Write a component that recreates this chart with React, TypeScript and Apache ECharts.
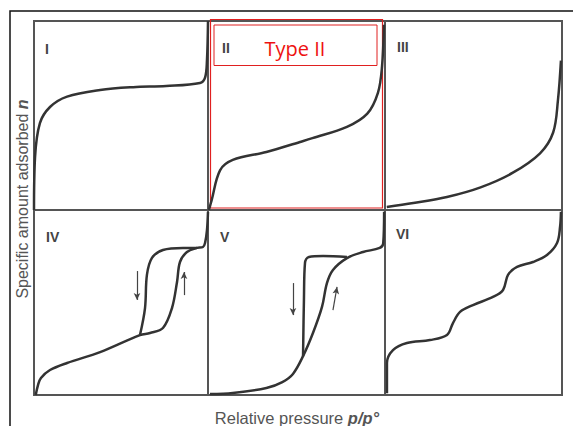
import React, { useEffect, useRef } from "react";
import * as echarts from "echarts";

// Normalised isotherm curves (x = relative pressure 0..1, y = amount adsorbed 0..1)
const typeI: [number, number][] = [
  [0, 0], [0.006, 0.28], [0.034, 0.46], [0.092, 0.545], [0.19, 0.6], [0.38, 0.635],
  [0.57, 0.65], [0.76, 0.656], [0.954, 0.672], [0.983, 0.7], [0.994, 0.79], [1, 1],
];
const typeII: [number, number][] = [
  [0.005, 0], [0.02, 0.05], [0.068, 0.21], [0.14, 0.265], [0.33, 0.307], [0.52, 0.36],
  [0.59, 0.38], [0.785, 0.44], [0.9, 0.51], [0.96, 0.62], [0.983, 0.757], [0.994, 0.98],
];
const typeIII: [number, number][] = [
  [0.01, 0.016], [0.16, 0.037], [0.35, 0.069], [0.54, 0.12], [0.72, 0.196], [0.876, 0.3],
  [0.95, 0.41], [0.977, 0.58], [0.994, 0.79],
];
const typeIVads: [number, number][] = [
  [0.01, 0], [0.023, 0.054], [0.04, 0.092], [0.092, 0.135], [0.19, 0.173], [0.38, 0.232],
  [0.609, 0.324], [0.667, 0.335], [0.741, 0.362], [0.793, 0.47], [0.822, 0.611], [0.839, 0.719],
  [0.879, 0.773], [0.937, 0.795], [0.971, 0.8], [0.983, 0.822], [0.994, 0.89], [1.0, 0.99],
];
const typeIVdes: [number, number][] = [
  [0.609, 0.324], [0.638, 0.47], [0.649, 0.649], [0.678, 0.741], [0.741, 0.784],
  [0.856, 0.795], [0.937, 0.795],
];
const typeVads: [number, number][] = [
  [0.011, 0.005], [0.14, 0.011], [0.33, 0.038], [0.42, 0.07], [0.48, 0.114], [0.537, 0.21],
  [0.593, 0.335], [0.644, 0.476], [0.672, 0.605], [0.706, 0.676], [0.785, 0.74], [0.876, 0.773],
  [0.97, 0.795], [0.99, 0.82], [0.995, 0.99],
];
const typeVdes: [number, number][] = [
  [0.537, 0.21], [0.542, 0.514], [0.548, 0.714], [0.57, 0.746], [0.65, 0.751], [0.785, 0.746],
];
const typeVI: [number, number][] = [
  [0.011, 0.01], [0.011, 0.173], [0.045, 0.243], [0.124, 0.281], [0.254, 0.297], [0.35, 0.324],
  [0.384, 0.389], [0.424, 0.449], [0.497, 0.486], [0.61, 0.53], [0.667, 0.568], [0.695, 0.649],
  [0.746, 0.692], [0.836, 0.719], [0.915, 0.757], [0.972, 0.822], [0.989, 0.908], [0.994, 0.99],
];
// hysteresis arrows: [x1, y1, x2, y2]
const arrowsIV: number[][] = [
  [0.592, 0.67, 0.592, 0.514],
  [0.862, 0.54, 0.862, 0.665],
];
const arrowsV: number[][] = [
  [0.48, 0.605, 0.48, 0.432],
  [0.706, 0.459, 0.729, 0.584],
];
const panelLabels = ["I", "II", "III", "IV", "V", "VI"];
const yTitle = "Specific amount adsorbed ";
const yTitleVar = "n";
const xTitle = "Relative pressure ";
const xTitleVar = "p/p°";
const highlight = "Type II";

const cols = [
  { left: 34, width: 174 },
  { left: 208, width: 177 },
  { left: 385, width: 177 },
];
const rows = [
  { top: 21, height: 189 },
  { top: 210, height: 185 },
];

export default function App() {
  const ref = useRef<HTMLDivElement>(null);
  useEffect(() => {
    if (!ref.current) return;
    const chart = echarts.init(ref.current, null, { renderer: "svg" });
    const grids: any[] = [];
    const xAxes: any[] = [];
    const yAxes: any[] = [];
    for (let r = 0; r < 2; r++) {
      for (let c = 0; c < 3; c++) {
        const i = r * 3 + c;
        grids.push({
          left: cols[c].left,
          top: rows[r].top,
          width: cols[c].width,
          height: rows[r].height,
          show: true,
          borderColor: "#555",
          borderWidth: 2,
          backgroundColor: "transparent",
        });
        xAxes.push({ type: "value", gridIndex: i, min: 0, max: 1, show: false });
        yAxes.push({ type: "value", gridIndex: i, min: 0, max: 1, show: false });
      }
    }
    const curve = (data: [number, number][], i: number, extra: any = {}) => ({
      type: "line",
      xAxisIndex: i,
      yAxisIndex: i,
      data,
      showSymbol: false,
      smooth: 0.35,
      silent: true,
      lineStyle: { color: "#333", width: 2.5 },
      ...extra,
    });
    const arrowMark = (arr: number[][]) => ({
      markLine: {
        silent: true,
        symbol: ["none", "arrow"],
        symbolSize: [5, 7],
        label: { show: false },
        lineStyle: { color: "#444", width: 1.2, type: "solid" },
        data: arr.map((a) => [{ coord: [a[0], a[1]] }, { coord: [a[2], a[3]] }]),
      },
    });
    const labelPos = [
      [45, 42], [222, 41], [397, 40], [46, 230], [220, 230], [396, 227],
    ];
    const option: any = {
      animation: false,
      backgroundColor: "#fff",
      grid: grids,
      xAxis: xAxes,
      yAxis: yAxes,
      series: [
        curve(typeI, 0),
        curve(typeII, 1),
        curve(typeIII, 2),
        curve(typeIVads, 3, arrowMark(arrowsIV)),
        curve(typeIVdes, 3),
        curve(typeVads, 4, arrowMark(arrowsV)),
        curve(typeVdes, 4),
        curve(typeVI, 5),
      ],
      graphic: [
        {
          type: "polyline",
          shape: { points: [[10, 426], [10, 11], [573, 11]] },
          style: { stroke: "#111", lineWidth: 1.5, fill: "none" },
          silent: true,
        },
        ...panelLabels.map((t, i) => ({
          type: "text",
          x: labelPos[i][0],
          y: labelPos[i][1],
          style: {
            text: t,
            fill: "#444",
            font: "bold 14px 'Liberation Sans', Arial, sans-serif",
          },
          silent: true,
        })),
        {
          type: "rect",
          shape: { x: 210.5, y: 19.5, width: 172, height: 188.5 },
          style: { stroke: "#e02020", lineWidth: 1.2, fill: "none" },
          silent: true,
        },
        {
          type: "rect",
          shape: { x: 214, y: 25, width: 163, height: 40.5 },
          style: { stroke: "#e02020", lineWidth: 1, fill: "none" },
          silent: true,
        },
        {
          type: "text",
          x: 295,
          y: 48,
          style: {
            text: highlight,
            fill: "#ee1111",
            font: "20px 'Open Sans', sans-serif",
            align: "center",
            verticalAlign: "middle",
          },
          silent: true,
        },
        {
          type: "text",
          x: 22,
          y: 199,
          rotation: Math.PI / 2,
          style: {
            text: "{a|" + yTitle + "}{b|" + yTitleVar + "}",
            align: "center",
            verticalAlign: "middle",
            rich: {
              a: { fill: "#555", font: "16px 'Liberation Sans', Arial, sans-serif" },
              b: { fill: "#555", font: "italic bold 16px 'Liberation Sans', Arial, sans-serif" },
            },
          },
          silent: true,
        },
        {
          type: "text",
          x: 297,
          y: 418,
          style: {
            text: "{a|" + xTitle + "}{b|" + xTitleVar + "}",
            align: "center",
            verticalAlign: "middle",
            rich: {
              a: { fill: "#555", font: "16.5px 'Liberation Sans', Arial, sans-serif" },
              b: { fill: "#555", font: "italic bold 16.5px 'Liberation Sans', Arial, sans-serif" },
            },
          },
          silent: true,
        },
      ],
    };
    chart.setOption(option);
    return () => chart.dispose();
  }, []);
  return (
    <div
      ref={ref}
      style={{ position: "fixed", left: 0, top: 0, width: 573, height: 426 }}
    />
  );
}
